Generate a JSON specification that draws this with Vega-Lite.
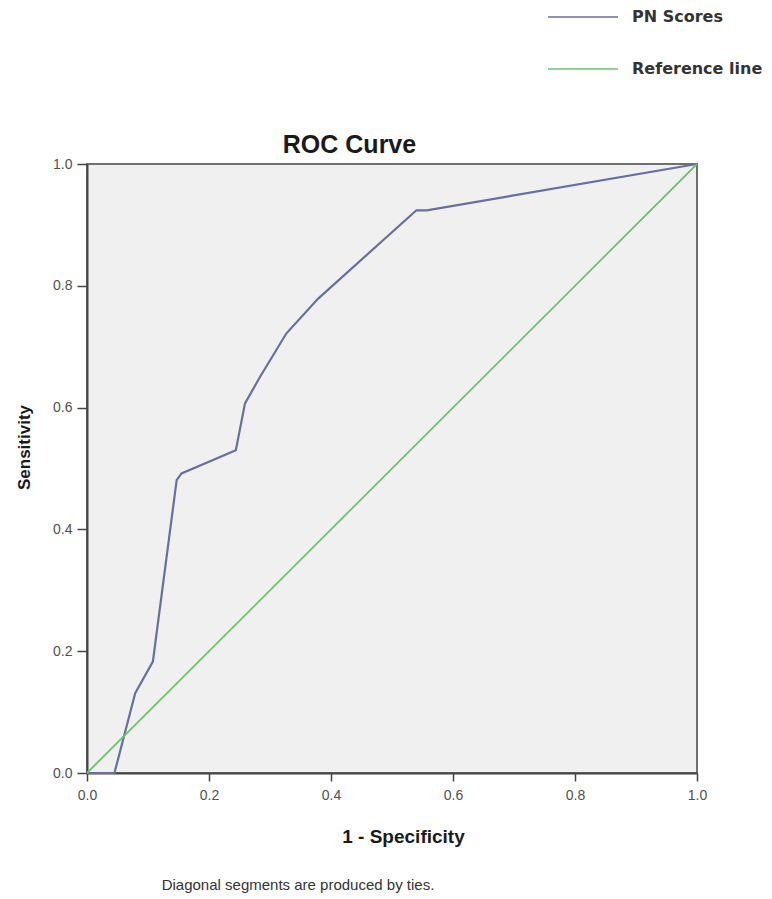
{
  "$schema": "https://vega.github.io/schema/vega-lite/v6.json",
  "width": 610,
  "height": 609,
  "autosize": {"type": "none"},
  "padding": {"left": 87, "top": 164, "right": 75, "bottom": 126},
  "background": "white",
  "config": {
    "view": {"fill": "#f0f0f0", "stroke": "#707070", "strokeWidth": 2},
    "font": "Liberation Sans"
  },
  "title": {
    "text": "Diagonal segments are produced by ties.",
    "orient": "bottom",
    "frame": "group",
    "anchor": "middle",
    "dx": -94,
    "offset": 44,
    "baseline": "alphabetic",
    "fontSize": 15,
    "fontWeight": "normal",
    "color": "#333333",
    "font": "Liberation Sans"
  },
  "datasets": {
    "roc": [
      {"fpr": 0.0, "tpr": 0.0, "series": "PN Scores"},
      {"fpr": 0.045, "tpr": 0.0, "series": "PN Scores"},
      {"fpr": 0.079, "tpr": 0.131, "series": "PN Scores"},
      {"fpr": 0.108, "tpr": 0.183, "series": "PN Scores"},
      {"fpr": 0.147, "tpr": 0.481, "series": "PN Scores"},
      {"fpr": 0.155, "tpr": 0.492, "series": "PN Scores"},
      {"fpr": 0.244, "tpr": 0.53, "series": "PN Scores"},
      {"fpr": 0.259, "tpr": 0.607, "series": "PN Scores"},
      {"fpr": 0.284, "tpr": 0.651, "series": "PN Scores"},
      {"fpr": 0.327, "tpr": 0.722, "series": "PN Scores"},
      {"fpr": 0.379, "tpr": 0.779, "series": "PN Scores"},
      {"fpr": 0.54, "tpr": 0.924, "series": "PN Scores"},
      {"fpr": 0.557, "tpr": 0.924, "series": "PN Scores"},
      {"fpr": 1.0, "tpr": 1.0, "series": "PN Scores"}
    ],
    "ref": [
      {"fpr": 0.0, "tpr": 0.0, "series": "Reference line"},
      {"fpr": 1.0, "tpr": 1.0, "series": "Reference line"}
    ]
  },
  "layer": [
    {
      "data": {"name": "roc"},
      "mark": {"type": "line", "strokeWidth": 2.2},
      "encoding": {
        "x": {
          "field": "fpr",
          "type": "quantitative",
          "scale": {"domain": [0, 1], "nice": false, "zero": false},
          "axis": {
            "orient": "bottom",
            "title": "1 - Specificity",
            "titleFontSize": 19,
            "titleFontWeight": "bold",
            "titleColor": "#1a1a1a",
            "titleX": 316,
            "titleY": 69,
            "titleBaseline": "alphabetic",
            "values": [0, 0.2, 0.4, 0.6, 0.8, 1.0],
            "format": ".1f",
            "labelFlush": false,
            "labelFontSize": 14,
            "labelColor": "#505050",
            "labelPadding": 7,
            "tickSize": 8,
            "tickColor": "#444444",
            "tickWidth": 1.5,
            "domainColor": "#444444",
            "domainWidth": 2,
            "grid": false
          }
        },
        "y": {
          "field": "tpr",
          "type": "quantitative",
          "scale": {"domain": [0, 1], "nice": false, "zero": false},
          "axis": {
            "title": "Sensitivity",
            "titleFontSize": 17,
            "titleFontWeight": "bold",
            "titleColor": "#1a1a1a",
            "titleX": -58,
            "titleY": 283,
            "titleBaseline": "alphabetic",
            "values": [0, 0.2, 0.4, 0.6, 0.8, 1.0],
            "format": ".1f",
            "labelFlush": false,
            "labelFontSize": 14,
            "labelColor": "#505050",
            "labelPadding": 5,
            "tickSize": 10,
            "tickColor": "#444444",
            "tickWidth": 1.5,
            "domainColor": "#444444",
            "domainWidth": 2,
            "grid": false
          }
        },
        "color": {
          "field": "series",
          "type": "nominal",
          "scale": {"domain": ["PN Scores", "Reference line"], "range": ["#676fa0", "#70c270"]},
          "legend": {
            "orient": "none",
            "legendX": 460,
            "legendY": -183,
            "title": null,
            "symbolType": "stroke",
            "symbolSize": 4900,
            "symbolStrokeWidth": 1.5,
            "rowPadding": 8,
            "labelOffset": 13,
            "labelFont": "DejaVu Sans",
            "labelFontSize": 16,
            "labelFontWeight": "bold",
            "labelColor": "#333333",
            "padding": 0
          }
        }
      }
    },
    {
      "data": {"name": "ref"},
      "mark": {"type": "line", "strokeWidth": 1.8},
      "encoding": {
        "x": {
          "field": "fpr",
          "type": "quantitative",
          "axis": {
            "orient": "top",
            "title": "ROC Curve",
            "titleFontSize": 25,
            "titleFontWeight": "bold",
            "titleColor": "#1a1a1a",
            "titleX": 262,
            "titleY": -12,
            "titleBaseline": "alphabetic",
            "labels": false,
            "ticks": false,
            "domain": false,
            "grid": false
          }
        },
        "y": {"field": "tpr", "type": "quantitative", "title": "Sensitivity"},
        "color": {"field": "series", "type": "nominal"}
      }
    }
  ],
  "resolve": {"axis": {"x": "independent"}}
}
